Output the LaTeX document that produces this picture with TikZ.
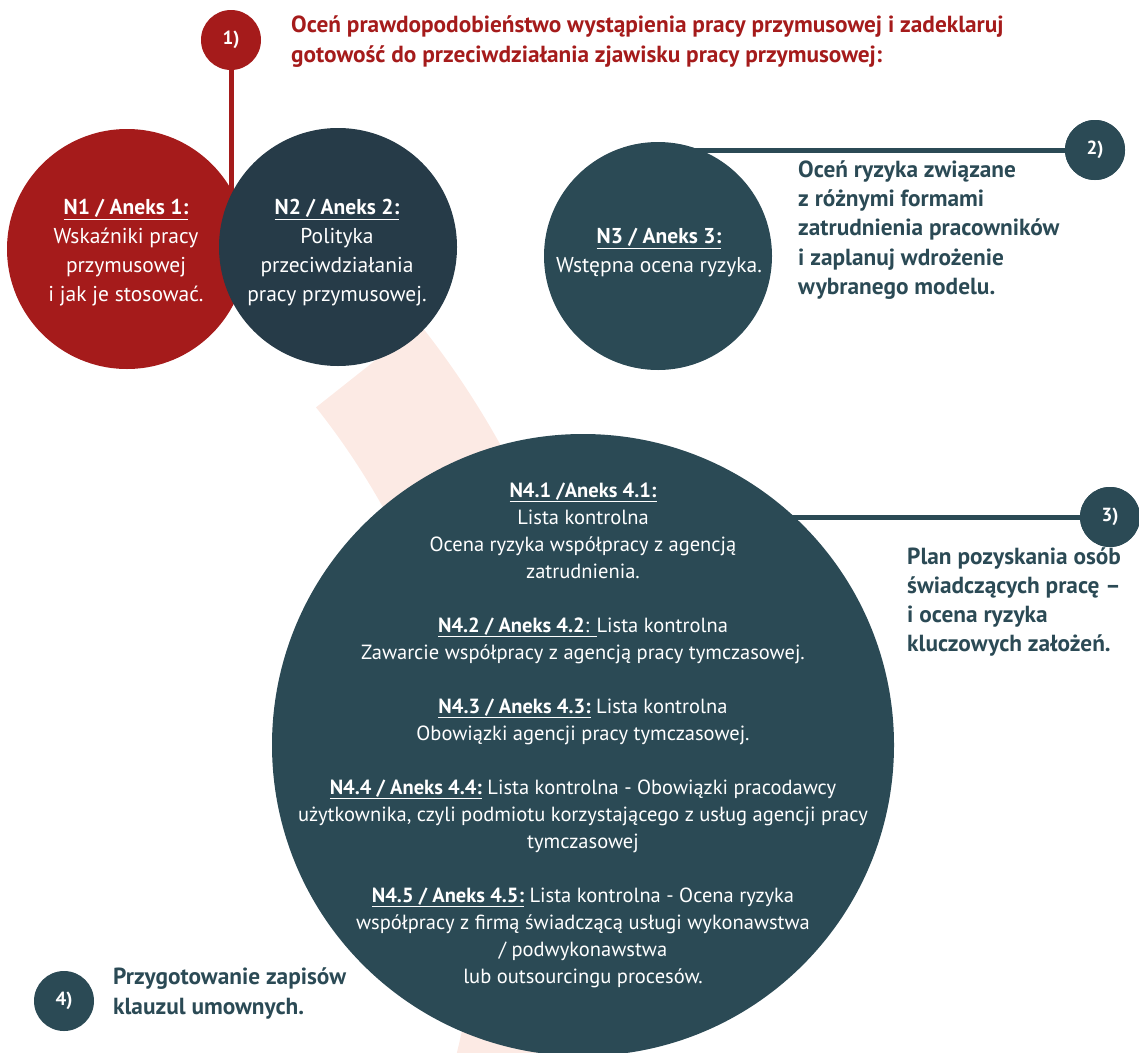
\documentclass[tikz,border=0pt]{standalone}
\usepackage{fontspec}
\setmainfont{PT Sans}
\definecolor{cred}{HTML}{A51B1B}
\definecolor{cdark}{HTML}{263B48}
\definecolor{cteal}{HTML}{2B4A55}
\definecolor{cpink}{HTML}{FCEAE4}
\newcommand{\hd}[1]{\underline{\textbf{#1}}}
\begin{document}
\begin{tikzpicture}[x=1pt,y=-1pt,
  bigc/.style={circle, inner sep=0pt, draw=none},
  numc/.style={circle, inner sep=0pt, minimum size=60pt, text=white,
    font=\bfseries\fontsize{19}{20}\selectfont},
  intext/.style={align=center, text=white, inner sep=0pt,
    font=\fontsize{21.5}{29}\selectfont},
  sidetext/.style={align=left, anchor=west, text=cteal, inner sep=0pt,
    font=\bfseries\fontsize{23.3}{29.2}\selectfont},
  conn/.style={line width=5pt}]
\useasboundingbox (0,0) rectangle (1139,1052);
\clip (0,0) rectangle (1139,1052);
% pink arc band
\fill[cpink] ([shift={(-272.5,873.8)}]-38.4:751) arc[start angle=-38.4, end angle=25, radius=751]
  -- ([shift={(-272.5,873.8)}]25:884) arc[start angle=25, end angle=-38.4, radius=884] -- cycle;
% numbered markers
\node[numc, fill=cred] (m1) at (231,40) {1)};
\node[numc, fill=cteal] (m2) at (1095,150) {2)};
\node[numc, fill=cteal] (m3) at (1110,517) {3)};
\node[numc, fill=cteal] (m4) at (64,1001) {4)};
% connector anchors
\coordinate (j1) at (231,200);
\coordinate (c3) at (658,256);
\coordinate (c4) at (583,745);
% connectors
\draw[conn, cred] (m1) -- (j1);
\draw[conn, cteal] (m2.center) -- (c3 |- m2.center);
\draw[conn, cteal] (m3.center) -- (c4 |- m3.center);
\node[numc, fill=cteal] at (m2) {2)};
\node[numc, fill=cteal] at (m3) {3)};
% circles
\node[bigc, fill=cred, minimum size=240pt] (n1) at (127,249) {};
\node[bigc, fill=cdark, minimum size=238pt] (n2) at (338,247) {};
\node[bigc, fill=cteal, minimum size=228pt] (n3) at (c3) {};
\node[bigc, fill=cteal, minimum size=622pt] (n4) at (c4) {};
% circle texts
\node[intext] (t1) at (126,253) {\hd{N1 / Aneks 1:}\\Wskaźniki pracy\\przymusowej\\i jak je stosować.};
\node[intext] (t2) at (337,253) {\hd{N2 / Aneks 2:}\\Polityka\\przeciwdziałania\\pracy przymusowej.};
\node[intext] (t3) at (659,253) {\hd{N3 / Aneks 3:}\\Wstępna ocena ryzyka.};
\node[intext, font=\fontsize{20.5}{27}\selectfont] (t4) at (583,735) {%
\hd{N4.1 /Aneks 4.1:}\\Lista kontrolna\\Ocena ryzyka współpracy z agencją\\zatrudnienia.\\[27pt]
\underline{\textbf{N4.2 / Aneks 4.2}: }Lista kontrolna\\Zawarcie współpracy z agencją pracy tymczasowej.\\[27pt]
\hd{N4.3 / Aneks 4.3:} Lista kontrolna\\Obowiązki agencji pracy tymczasowej.\\[27pt]
\hd{N4.4 / Aneks 4.4:} Lista kontrolna - Obowiązki pracodawcy\\użytkownika, czyli podmiotu korzystającego z usług agencji pracy\\tymczasowej\\[27pt]
\hd{N4.5 / Aneks 4.5:} Lista kontrolna - Ocena ryzyka\\współpracy z firmą świadczącą usługi wykonawstwa\\/ podwykonawstwa\\lub outsourcingu procesów.};
% side texts
\node[sidetext, text=cred] (s1) at (291,41.5) {Oceń prawdopodobieństwo wystąpienia pracy przymusowej i zadeklaruj\\gotowość do przeciwdziałania zjawisku pracy przymusowej:};
\node[sidetext] (s2) at (798,230) {Oceń ryzyka związane\\z różnymi formami\\zatrudnienia pracowników\\i zaplanuj wdrożenie\\wybranego modelu.};
\node[sidetext] (s3) at (907,602) {Plan pozyskania osób\\świadczących pracę –\\i ocena ryzyka\\kluczowych założeń.};
\node[sidetext] (s4) at (113,993.5) {Przygotowanie zapisów\\klauzul umownych.};
\end{tikzpicture}
\end{document}
